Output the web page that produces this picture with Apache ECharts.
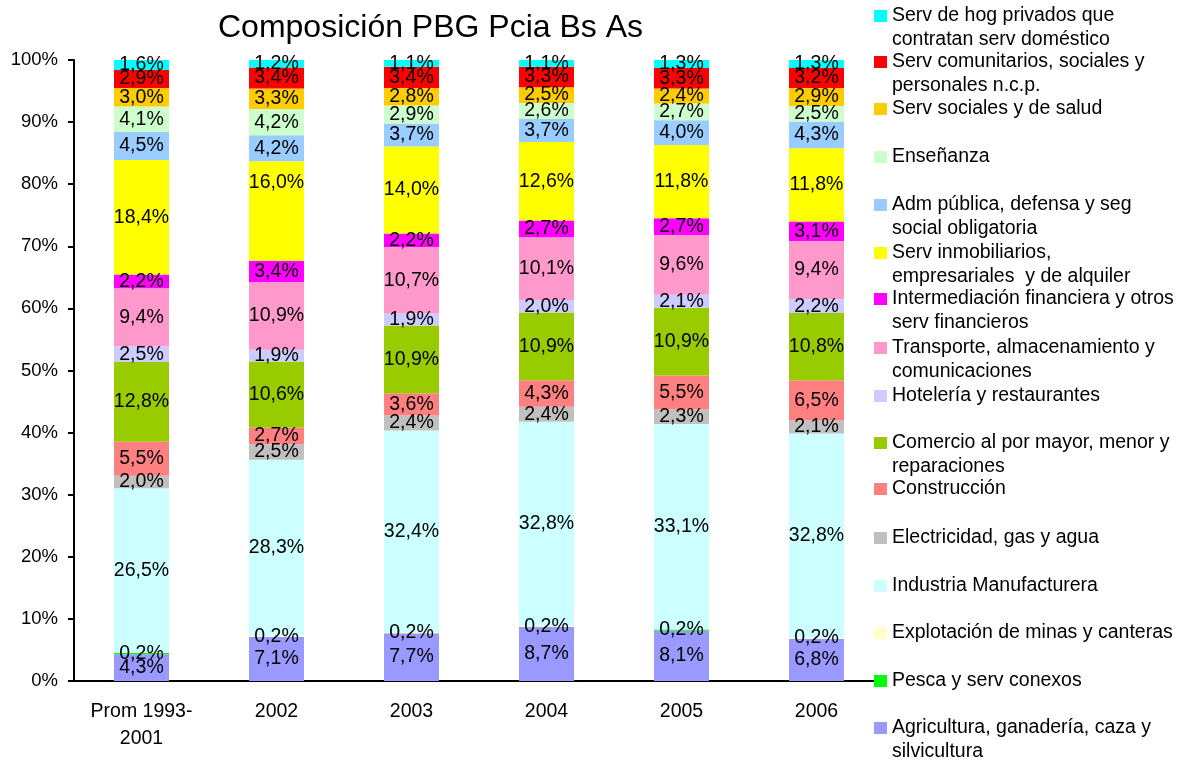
<!DOCTYPE html>
<html>
<head>
<meta charset="utf-8">
<title>Composición PBG Pcia Bs As</title>
<script src="https://cdn.jsdelivr.net/npm/echarts@6/dist/echarts.min.js"></script>
<style>
  html, body { margin: 0; padding: 0; background: #fff; }
  #chart { width: 1181px; height: 760px; }
</style>
</head>
<body>
<div id="chart"></div>
<script>
const categories = ['Prom 1993-\n2001', '2002', '2003', '2004', '2005', '2006']

// sectors, bottom of the stack first
const agricultura = [4.3, 7.1, 7.7, 8.7, 8.1, 6.8]
const pesca = [0.2, 0, 0, 0, 0.2, 0]
const minas = [0, 0.2, 0.2, 0.2, 0, 0.2]
const industria = [26.5, 28.3, 32.4, 32.8, 33.1, 32.8]
const electricidad = [2.0, 2.5, 2.4, 2.4, 2.3, 2.1]
const construccion = [5.5, 2.7, 3.6, 4.3, 5.5, 6.5]
const comercio = [12.8, 10.6, 10.9, 10.9, 10.9, 10.8]
const hoteleria = [2.5, 1.9, 1.9, 2.0, 2.1, 2.2]
const transporte = [9.4, 10.9, 10.7, 10.1, 9.6, 9.4]
const intermediacion = [2.2, 3.4, 2.2, 2.7, 2.7, 3.1]
const inmobiliarios = [18.4, 16.0, 14.0, 12.6, 11.8, 11.8]
const admPublica = [4.5, 4.2, 3.7, 3.7, 4.0, 4.3]
const ensenanza = [4.1, 4.2, 2.9, 2.6, 2.7, 2.5]
const servSociales = [3.0, 3.3, 2.8, 2.5, 2.4, 2.9]
const servComunitarios = [2.9, 3.4, 3.4, 3.3, 3.3, 3.2]
const servHogares = [1.6, 1.2, 1.1, 1.1, 1.3, 1.3]

const sectors = [
  { name: 'Agricultura, ganadería, caza y\nsilvicultura', color: '#9999FF', values: agricultura },
  { name: 'Pesca y serv conexos', color: '#00FF00', values: pesca },
  { name: 'Explotación de minas y canteras', color: '#FFFFCC', values: minas },
  { name: 'Industria Manufacturera', color: '#CCFFFF', values: industria },
  { name: 'Electricidad, gas y agua', color: '#C0C0C0', values: electricidad },
  { name: 'Construcción', color: '#FF8080', values: construccion },
  { name: 'Comercio al por mayor, menor y\nreparaciones', color: '#99CC00', values: comercio },
  { name: 'Hotelería y restaurantes', color: '#CCCCFF', values: hoteleria },
  { name: 'Transporte, almacenamiento y\ncomunicaciones', color: '#FF99CC', values: transporte },
  { name: 'Intermediación financiera y otros\nserv financieros', color: '#FF00FF', values: intermediacion },
  { name: 'Serv inmobiliarios,\nempresariales  y de alquiler', color: '#FFFF00', values: inmobiliarios, nudge: { 1: -28 } },
  { name: 'Adm pública, defensa y seg\nsocial obligatoria', color: '#99CCFF', values: admPublica },
  { name: 'Enseñanza', color: '#CCFFCC', values: ensenanza },
  { name: 'Serv sociales y de salud', color: '#FFCC00', values: servSociales },
  { name: 'Serv comunitarios, sociales y\npersonales n.c.p.', color: '#FF0000', values: servComunitarios },
  { name: 'Serv de hog privados que\ncontratan serv doméstico', color: '#00FFFF', values: servHogares }
]

const FONT = "'Liberation Sans', Arial, sans-serif"

// column totals, so each bar fills 100% like the original
const totals = categories.map((_, i) => sectors.reduce((s, d) => s + d.values[i], 0))

function fmt(v) {
  return v.toFixed(1).replace('.', ',') + '%'
}

// legend: top item first, one box per entry so each sits on its own row.
// a blank first line keeps the swatch level with the first text line.
const legendRows = [16, 62, 109, 157, 205, 253, 299, 348, 396, 443, 489, 538, 586, 633, 681, 728]
const legends = sectors.slice().reverse().map((s, i) => {
  const twoLines = s.name.includes('\n')
  return {
    data: [s.name],
    left: 874,
    top: legendRows[i] - (twoLines ? 36 : 12),
    padding: 0,
    itemWidth: 13,
    itemHeight: 12,
    selectedMode: false,
    icon: 'rect',
    formatter: name => (twoLines ? ' \n' + name : name),
    textStyle: { fontFamily: FONT, fontSize: 19.5, lineHeight: 24, color: '#000' }
  }
})

const chart = echarts.init(document.getElementById('chart'), null, { renderer: 'canvas' })

chart.setOption({
  backgroundColor: '#fff',
  animation: false,
  title: {
    text: 'Composición PBG Pcia Bs As',
    left: 218,
    top: 12,
    padding: 0,
    textStyle: { fontFamily: FONT, fontSize: 32, fontWeight: 'normal', color: '#000' }
  },
  legend: legends,
  grid: { left: 74, right: 297, top: 60, bottom: 79, containLabel: false },
  xAxis: {
    type: 'category',
    data: categories,
    axisLine: { lineStyle: { color: '#000', width: 2 } },
    axisTick: { length: 6, lineStyle: { color: '#000', width: 2 } },
    axisLabel: { color: '#000', fontFamily: FONT, fontSize: 19.5, lineHeight: 27, margin: 17 }
  },
  yAxis: {
    type: 'value',
    min: 0,
    max: 100,
    interval: 10,
    splitLine: { show: false },
    axisLine: { show: true, lineStyle: { color: '#000', width: 2 } },
    axisTick: { show: true, length: 6, lineStyle: { color: '#000', width: 2 } },
    axisLabel: { color: '#000', fontFamily: FONT, fontSize: 18.5, margin: 16, formatter: '{value}%' }
  },
  series: sectors.map(s => ({
    name: s.name,
    type: 'bar',
    stack: 'total',
    barWidth: 55,
    itemStyle: { color: s.color },
    label: {
      show: true,
      position: 'inside',
      color: '#000',
      fontFamily: FONT,
      fontSize: 19.5,
      formatter: p => (s.values[p.dataIndex] > 0 ? fmt(s.values[p.dataIndex]) : '')
    },
    labelLayout: p => {
      const dy = s.nudge && s.nudge[p.dataIndex]
      return dy ? { hideOverlap: false, dy } : { hideOverlap: false }
    },
    data: s.values.map((v, i) => v / totals[i] * 100)
  }))
})
</script>
</body>
</html>
